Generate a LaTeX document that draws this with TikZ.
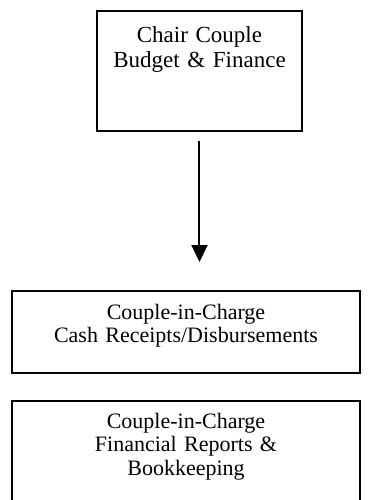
\documentclass[tikz,border=0pt]{standalone}
\usepackage{fontspec}
\setmainfont{Liberation Serif}
\usetikzlibrary{positioning,arrows.meta}

\begin{document}
\begin{tikzpicture}[x=0.5pt, y=-0.5pt,
    box/.style={draw, line width=1pt, inner xsep=0pt, inner ysep=0pt, align=center,
        font=\fontsize{11}{11.75}\selectfont},
    link/.style={line width=1pt, -{Triangle[width=8pt,length=8.5pt]}}]

\useasboundingbox (0,0) rectangle (371,500);

% Chair box (text sits high, room below)
\node[box, font=\fontsize{11.5}{12.5}\selectfont, text width=102.5pt, text height=15.5pt, text depth=44.5pt,
    anchor=north] (chair) at (199.5,10) {Chair Couple\\Budget \& Finance};

% Couple-in-charge boxes
\node[box, text width=174pt, text height=14pt, text depth=27pt, anchor=north] (cash) at (186,290)
    {Couple-in-Charge\\Cash Receipts/Disbursements};
\node[box, text width=174pt, text height=13.5pt, text depth=56pt, anchor=north] (books) at (186,400)
    {Couple-in-Charge\\Financial Reports \&\\Bookkeeping};

% Arrow down from chair
\draw[link, shorten <=4.5pt, shorten >=14pt] (chair.south) -- (chair.south |- cash.north);

\end{tikzpicture}
\end{document}
